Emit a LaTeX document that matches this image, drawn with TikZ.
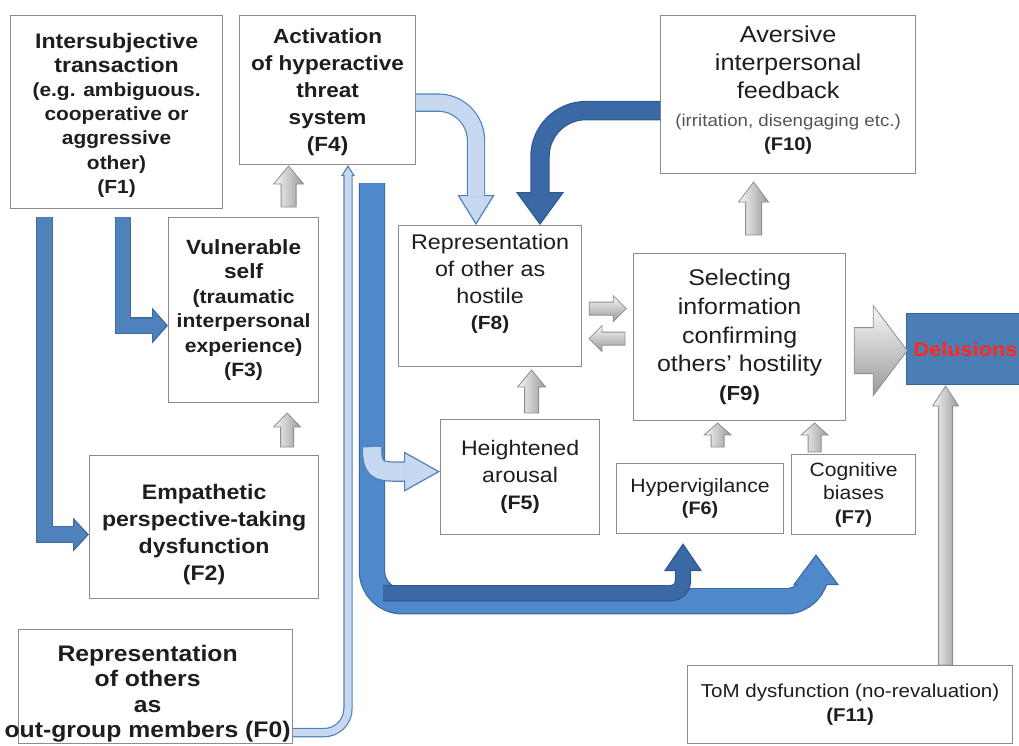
\documentclass[tikz,border=0pt]{standalone}
\usepackage{fontspec}
\setmainfont{Liberation Sans}[FakeStretch=1.1]
\usetikzlibrary{arrows.meta,calc}

\definecolor{boxline}{HTML}{8C8C8C}
\definecolor{ink}{HTML}{1E1E1E}
\definecolor{subtext}{HTML}{555555}
\definecolor{midblue}{HTML}{4F81BD}
\definecolor{midblueedge}{HTML}{3D6CA6}
\definecolor{darkblue}{HTML}{3A69A6}
\definecolor{darkblueedge}{HTML}{2E5A91}
\definecolor{paleblue}{HTML}{C6D9F0}
\definecolor{bandblue}{HTML}{4F88CB}
\definecolor{bandedge}{HTML}{3B6BA4}
\definecolor{delfill}{HTML}{4A7EB5}
\definecolor{deledge}{HTML}{3A6590}
\definecolor{delred}{HTML}{FF2A1A}
\definecolor{grayedge}{HTML}{8E8E8E}

\newcommand\fs[2]{\fontsize{#1}{#2}\selectfont}

\tikzset{
  box/.style={draw=boxline, line width=1.2pt, fill=white, inner sep=0pt,
    align=center, text=ink, anchor=north west},
  lbl/.style={align=center, text=ink, inner sep=0pt},
  % thick outlined block arrow: edge colour, fill colour, shaft width, head width, head length
  fat/.style n args={5}{draw=#1, line width=#3+2.4pt,
    -{Triangle[width=#4,length=#5,fill=#2,line width=1.2pt]},
    postaction={draw=#2, line width=#3, -, shorten >=#5-1.6pt}},
  grayside/.style={draw=grayedge, line width=0.8pt, top color=black!3, bottom color=black!40},
  grayup/.style={draw=grayedge, line width=0.8pt, left color=black!3, right color=black!40},
  % straight block arrow along +x: length, shaft width, head width, head length, style
  pics/blockarr/.style n args={5}{code={
    \path[#5] (0,-#2/2) -- (#1-#4,-#2/2) -- (#1-#4,-#3/2) -- (#1,0)
      -- (#1-#4,#3/2) -- (#1-#4,#2/2) -- (0,#2/2) -- cycle;}},
}

\begin{document}
\begin{tikzpicture}[x=1pt,y=-1pt]
\useasboundingbox (0,0) rectangle (1019,745);
\clip (0,0) rectangle (1019,745);

% ---- boxes ----
\node[box, minimum width=212, minimum height=193,
  label={[lbl, font=\bfseries\fs{21}{24.2}, yshift=-3pt]center:{Intersubjective\\transaction\\
   {\fs{19}{24.2}(e.g. ambiguous.}\\{\fs{19}{24.2}cooperative or}\\
   {\fs{19}{24.2}aggressive}\\{\fs{19}{24.2}other)}\\{\fs{19}{24.2}(F1)}}}]
  (F1) at (10,15) {};

\node[box, minimum width=176, minimum height=149,
  label={[lbl, font=\bfseries\fs{20.5}{27}, yshift=-2pt]center:{Activation\\of hyperactive\\threat\\system\\(F4)}}]
  (F4) at (239,15) {};

\node[box, minimum width=150, minimum height=185, font=\bfseries\fs{20.6}{24.5}] (F3) at (168,217)
  {Vulnerable\\self\\{\fs{19.2}{24.5}(traumatic}\\{\fs{19.2}{24.5}interpersonal}\\
   {\fs{19.2}{24.5}experience)}\\{\fs{19.2}{24.5}(F3)}};

\node[box, minimum width=229, minimum height=143,
  label={[lbl, font=\bfseries\fs{21}{27}, yshift=-7pt]center:{Empathetic\\perspective-taking\\dysfunction\\(F2)}}]
  (F2) at (89,455) {};

\node[box, minimum width=274, minimum height=114,
  label={[lbl, font=\bfseries\fs{22.5}{25.5}, yshift=-7pt, xshift=-8pt]center:{Representation\\of others\\as\\out-group members (F0)}}]
  (F0) at (18,629) {};

\node[box, minimum width=183, minimum height=141,
  label={[lbl, font=\fs{21.2}{26.7}, yshift=12pt]center:{Representation\\of other as\\hostile\\{\bfseries\fs{19}{26.7}(F8)}}}]
  (F8) at (398,225) {};

\node[box, minimum width=159, minimum height=115, font=\fs{21}{27}] (F5) at (440,419)
  {Heightened\\arousal\\{\bfseries\fs{19.5}{27}(F5)}};

\node[box, minimum width=212, minimum height=167, font=\fs{22.7}{28.7}] (F9) at (633,253)
  {Selecting\\information\\confirming\\others’ hostility\\{\bfseries\fs{20.3}{28.7}(F9)}};

\node[box, minimum width=255, minimum height=158,
  label={[lbl, font=\fs{23}{28}, yshift=5pt]center:{Aversive\\interpersonal\\feedback\\
    {\color{subtext}\fs{17}{28}(irritation, disengaging etc.)}\\[-4pt]{\bfseries\fs{18.3}{28}(F10)}}}]
  (F10) at (660,15) {};

\node[box, minimum width=167, minimum height=70, font=\fs{19.3}{22}] (F6) at (616,463)
  {Hypervigilance\\{\bfseries\fs{18}{22}(F6)}};

\node[box, minimum width=124, minimum height=80, font=\fs{19.2}{23.5}] (F7) at (791,454)
  {Cognitive\\biases\\{\bfseries\fs{18.5}{23.5}(F7)}};

\node[box, minimum width=325, minimum height=78, font=\fs{18.7}{24}] (F11) at (687,665)
  {ToM dysfunction (no-revaluation)\\{\bfseries\fs{18.5}{24}(F11)}};

\node[anchor=north west, minimum width=140, minimum height=71, fill=delfill, draw=deledge,
  line width=1pt, text width=126pt, inner xsep=7pt, inner ysep=0pt, align=left,
  font=\bfseries\fs{19.8}{24}, text=delred] (Del) at (906,313) {Delusions};

% ---- blue block arrows ----
\draw[fat={midblueedge}{midblue}{15pt}{34pt}{16pt}]
  ($(F1.south west)+(34.5,8)$) |- ($(F2.west)+(0,7.5)$);
\draw[fat={midblueedge}{midblue}{14pt}{36pt}{16pt}]
  ($(F1.south west)+(113,8)$) |- ($(F3.west)+(0,15.5)$);

\draw[fat={midblue}{paleblue}{7pt}{14pt}{11pt}, rounded corners=24pt]
  ($(F0.east)+(0,46)$) -| ($(F4.south west)+(109,0)$);

\draw[fat={bandedge}{bandblue}{24pt}{46pt}{31pt}]
  ($(F4.south west)+(133,18)$) [rounded corners=30pt] |- ($(F7.south west)+(25,66)$)
  [rounded corners=14pt] -- ($(F7.south west)+(25,19)$);

\draw[fat={darkblueedge}{darkblue}{14pt}{38pt}{28pt}, rounded corners=12pt]
  ($(F4.south west)+(144,428)$) -| ($(F6.south west)+(67,9)$);

\draw[fat={midblue}{paleblue}{18pt}{40pt}{36pt}]
  ($(F4.south west)+(133,282)$) .. controls +(0,22) and +(-20,0) .. ($(F5.west)+(-43,-5.5)$)
  -- ($(F5.west)+(0,-5.5)$);

\draw[fat={midblue}{paleblue}{16pt}{37pt}{30pt}, rounded corners=38pt]
  ($(F4.east)+(0,12.5)$) -| ($(F8.north west)+(78,0)$);

\draw[fat={darkblueedge}{darkblue}{17pt}{48pt}{33pt}, rounded corners=46pt]
  ($(F10.west)+(0,16)$) -| ($(F8.north west)+(142,0)$);

% ---- grey block arrows ----
\pic[rotate=90] at ($(F3.north)+(45,-10)$) {blockarr={41}{15}{30}{18}{grayup}};
\pic[rotate=90] at ($(F2.north)+(83,-8)$) {blockarr={34}{13}{27}{14}{grayup}};
\pic[rotate=90] at ($(F5.north)+(11.5,-6)$) {blockarr={43}{14}{28}{17}{grayup}};
\pic[rotate=90] at ($(F9.north)+(14,-18)$) {blockarr={53}{16}{30}{20}{grayup}};
\pic[rotate=90] at ($(F6.north)+(17.5,-16)$) {blockarr={24}{13}{27}{12}{grayup}};
\pic[rotate=90] at ($(F7.north)+(-39,-2)$) {blockarr={29}{13}{27}{12}{grayup}};
\pic[rotate=90] at ($(F11.north)+(95.5,0)$) {blockarr={279}{14}{26}{20}{grayup}};
\pic at ($(F8.east)+(7,12.5)$) {blockarr={37}{13}{26}{13}{grayside}};
\pic[rotate=180] at ($(F9.west)+(-8,1.5)$) {blockarr={36}{13}{26}{13}{grayside}};
\pic at ($(F9.east)+(8,13.5)$) {blockarr={53}{46}{90}{34}{grayside}};

\end{tikzpicture}
\end{document}
